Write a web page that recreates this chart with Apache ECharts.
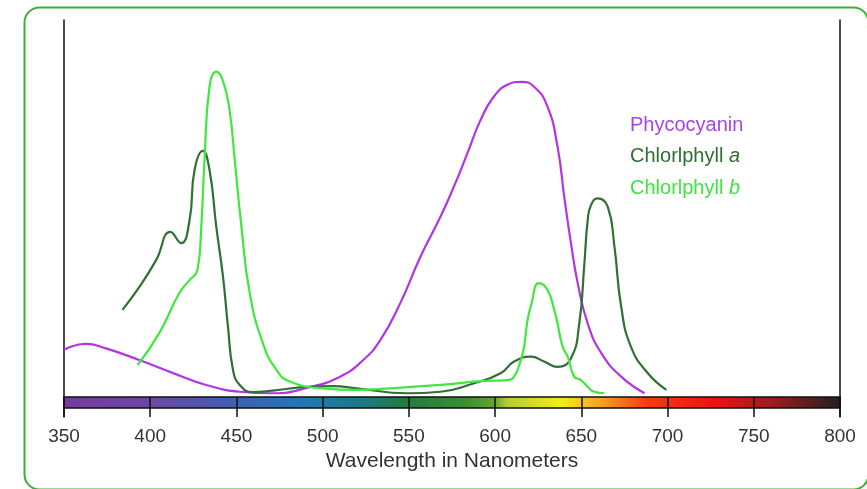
<!DOCTYPE html>
<html>
<head>
<meta charset="utf-8">
<script src="https://cdn.jsdelivr.net/npm/echarts@6/dist/echarts.min.js"></script>
<style>
html,body{margin:0;padding:0;background:#fff;}
#chart{width:867px;height:489px;}
</style>
</head>
<body>
<div id="chart"></div>
<script>
// Wavelength (nm) / relative absorbance pairs
const phycocyanin = [
  [350,12.5],[362.6,14.1],[374.3,12.9],[393.7,9.8],[412.9,6.4],[432.5,3.2],[451.9,1.4],[471.1,1.0],
  [490.7,2.4],[510.1,5.4],[523.5,9.8],[533.4,15.1],[545,24.9],[556.7,37.2],[568.3,47.8],[576.1,55.8],
  [583.9,64.6],[591.6,73.5],[599.3,79.7],[607.1,82.8],[614.9,83.6],[622.6,82.3],[630.4,77.0],[636.2,66.4],
  [640.1,53.1],[644,40.8],[647.9,30.2],[653.7,19.5],[661.5,11.7],[673.1,5.4],[686.7,1.0]
];
const chlorophyllA = [
  [383.9,23.1],[393.7,29.2],[403.4,36.3],[411.7,43.8],[417.9,40.8],[422.8,46.9],[425.7,60.2],[430.5,65.3],
  [434.4,60.2],[438.3,45.2],[442.2,31.9],[445.1,18.6],[448,7.2],[451.9,3.2],[459.4,1.3],[471.1,1.7],
  [490.7,2.7],[506,2.9],[519.8,2.3],[548.9,1.0],[568.3,1.4],[587.5,3.6],[603.2,6.3],[611,9.4],
  [620.7,10.7],[628.4,9.4],[636.2,8.0],[644,10.3],[648.8,19.5],[651.7,35.0],[653.7,46.9],[655.6,50.9],
  [659.5,52.7],[665.3,50.5],[669.2,39.9],[673.1,24.0],[678.8,13.3],[688.6,6.3],[699.3,1.9]
];
const chlorophyllB = [
  [392.7,8.5],[405.3,17.0],[416.9,27.6],[422.8,31.0],[427.4,33.7],[429.6,45.2],[431.5,62.9],[434.4,82.3],
  [438.3,86.3],[442,84.1],[446,76.1],[449,62.9],[452.9,45.2],[457.7,27.6],[465.3,14.3],[473.2,7.2],
  [481,4.1],[500.2,2.3],[519.8,1.9],[539.2,2.3],[568.3,3.2],[591.6,4.2],[607.1,4.5],[611,5.4],
  [614.9,9.8],[616.8,13.3],[618.8,20.4],[620.7,24.0],[625.5,30.2],[630.4,28.4],[634.3,23.1],[636.2,19.5],
  [639.2,13.3],[642.1,10.7],[645.9,5.4],[649.8,4.5],[657.5,1.4],[663.4,1.0]
];
const xTicks = [350,400,450,500,550,600,650,700,750,800];
const spectrumBand = [[350, 800, 0, -2.92]];
const spectrumStops = [
  [0.00,'#7a3a9c'],[0.11,'#6a48a6'],[0.22,'#3f60b0'],[0.31,'#2278b4'],[0.38,'#1a7a8a'],
  [0.44,'#237a40'],[0.52,'#3a9030'],[0.555,'#62a632'],[0.57,'#b4cc30'],[0.64,'#f4ec20'],
  [0.69,'#f8a420'],[0.75,'#f43c12'],[0.84,'#e81414'],[0.91,'#a01c1c'],[1.00,'#202020']
];
const legendItems = [
  {name:'Phycocyanin', suffix:'', color:'#a744e6'},
  {name:'Chlorlphyll ', suffix:'a', color:'#2e6e30'},
  {name:'Chlorlphyll ', suffix:'b', color:'#3fe43f'}
];

const chart = echarts.init(document.getElementById('chart'));
const font = 'Liberation Sans, Arial, sans-serif';

chart.setOption({
  animation:false,
  grid:{left:64,right:27,top:20,bottom:72,containLabel:false},
  xAxis:{
    type:'value',min:350,max:800,interval:50,z:5,
    axisLine:{show:false,onZero:false},
    axisTick:{show:true,inside:true,length:20,lineStyle:{color:'#111',width:1.5}},
    axisLabel:{margin:10,fontSize:19,color:'#333',fontFamily:font,
      formatter:v=>xTicks.includes(v)?String(v):''},
    splitLine:{show:false},
    name:'Wavelength in Nanometers',nameLocation:'middle',nameGap:31,
    nameTextStyle:{fontSize:21,color:'#333',fontFamily:font}
  },
  yAxis:[
    {type:'value',min:-20/3.77,max:100,position:'left',
     axisLine:{show:true,onZero:false,lineStyle:{color:'#111',width:1.5}},axisTick:{show:false},
     axisLabel:{show:false},splitLine:{show:false}},
    {type:'value',min:-20/3.77,max:100,position:'right',
     axisLine:{show:true,onZero:false,lineStyle:{color:'#111',width:1.5}},axisTick:{show:false},
     axisLabel:{show:false},splitLine:{show:false}}
  ],
  graphic:[
    {type:'rect',left:22,top:5,shape:{width:844,height:482,r:15},
     style:{fill:'none',stroke:'#36b236',lineWidth:2},silent:true},
    {type:'group',left:630,top:115,children:legendItems.map((it,i)=>({
      type:'text',top:i*31.5,
      style:{text:'{n|'+it.name+'}{s|'+it.suffix+'}',
        rich:{n:{fontSize:20,fontFamily:font,fill:it.color},
              s:{fontSize:20,fontFamily:font,fontStyle:'italic',fill:it.color}}}
    }))}
  ],
  series:[
    {type:'custom',z:1,data:spectrumBand,
     renderItem:(params,api)=>{
       const p0=api.coord([api.value(0),api.value(2)]);
       const p1=api.coord([api.value(1),api.value(3)]);
       return {type:'rect',shape:{x:p0[0],y:p0[1],width:p1[0]-p0[0],height:p1[1]-p0[1]},
         style:{fill:new echarts.graphic.LinearGradient(0,0,1,0,
           spectrumStops.map(s=>({offset:s[0],color:s[1]}))),stroke:'#111',lineWidth:1.5}};
     }},
    {type:'line',name:'Phycocyanin',data:phycocyanin,smooth:0.5,symbol:'none',
     lineStyle:{color:'#b234e4',width:2.2},z:3},
    {type:'line',name:'Chlorophyll a',data:chlorophyllA,smooth:0.5,symbol:'none',
     lineStyle:{color:'#2f7033',width:2.2},z:3},
    {type:'line',name:'Chlorophyll b',data:chlorophyllB,smooth:0.5,symbol:'none',
     lineStyle:{color:'#3ee83e',width:2.2},z:3}
  ]
});
</script>
</body>
</html>
